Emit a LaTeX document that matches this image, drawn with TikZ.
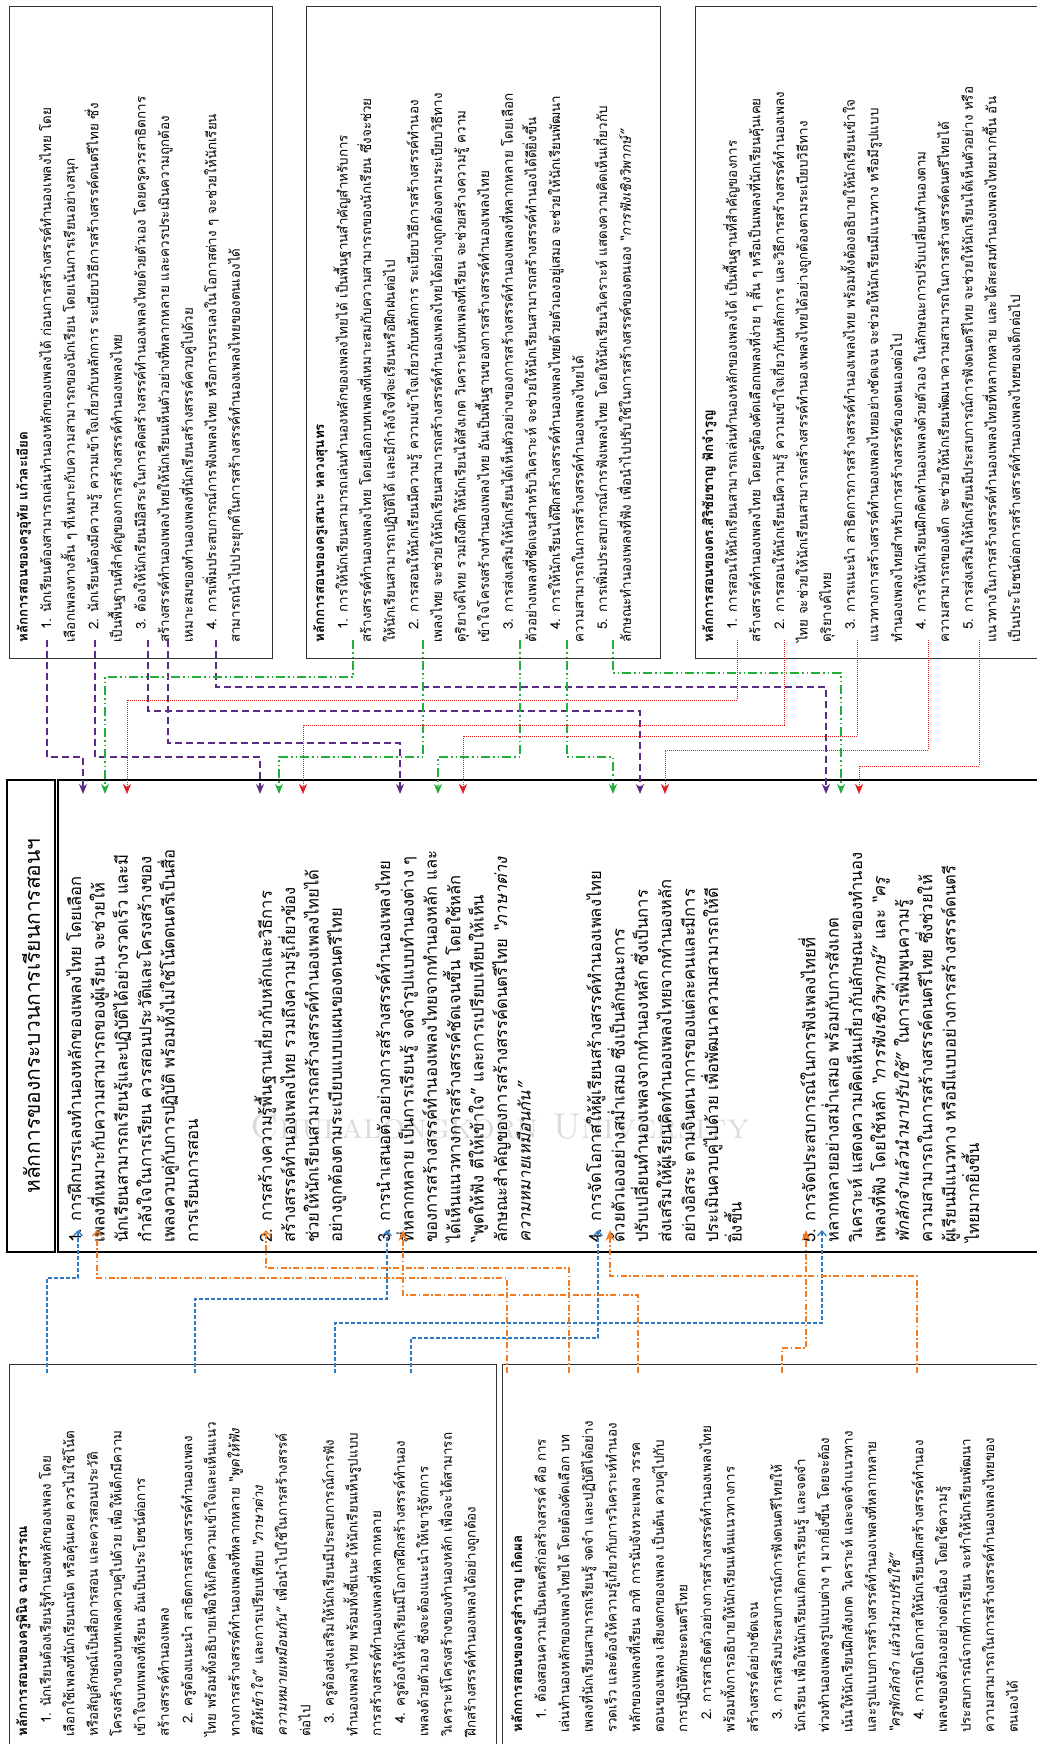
\documentclass[tikz,border=0pt]{standalone}
\usepackage{fontspec}
\newfontfamily\thaifont[Script=Thai]{Loma}
\usetikzlibrary{arrows.meta}

\definecolor{purp}{HTML}{5B2C86}
\definecolor{grn}{HTML}{22B03A}
\definecolor{redd}{HTML}{E41B1B}
\definecolor{blu}{HTML}{2F7BC4}
\definecolor{orng}{HTML}{F47B20}

\newcommand{\ind}{\hspace*{13pt}}

\tikzset{
  frame/.style={draw=black!80, line width=0.8pt},
  bigframe/.style={draw=black, line width=2.4pt},
  sidetext/.style={rotate=90, anchor=north west, align=left, inner sep=0pt,
    font=\thaifont\fontsize{13.4}{23.6}\selectfont},
  maintext/.style={rotate=90, anchor=north west, align=left, inner sep=0pt,
    font=\thaifont\fontsize{16.6}{23.4}\selectfont},
  purpline/.style={draw=purp, line width=1.6pt, dash pattern=on 7pt off 4pt,
    -{Stealth[length=10pt,width=8pt,inset=3pt]}},
  grnline/.style={draw=grn, line width=1.6pt,
    dash pattern=on 9pt off 3pt on 1.5pt off 3pt on 1.5pt off 3pt,
    -{Stealth[length=10pt,width=8pt,inset=3pt]}},
  redline/.style={draw=redd, line width=0.7pt, dash pattern=on 1pt off 1pt,
    -{Stealth[length=10pt,width=8pt,inset=3pt]}},
  blueline/.style={draw=blu, line width=1.3pt, dash pattern=on 4pt off 2pt,
    -{Straight Barb[length=5pt,width=9pt]}},
  orline/.style={draw=orng, line width=1.3pt,
    dash pattern=on 6pt off 2.5pt on 1.5pt off 2.5pt,
    -{Straight Barb[length=5pt,width=9pt]}},
  orbig/.style={orline, -{Stealth[length=11pt,width=9pt,inset=4pt]}},
}

\begin{document}
\begin{tikzpicture}[x=1pt,y=-1pt]
  \useasboundingbox (0,0) rectangle (1036,1744);

  % watermark
  \node[text=black!14, font=\fontsize{36}{36}\selectfont] (wmark) at (500,1126)
    {\textsc{Chulalongkorn University}};

  % side boxes
  \draw[frame] (9,6) rectangle (272,658);
  \draw[frame] (306,6) rectangle (660,658);
  \draw[frame] (695,6) rectangle (1044,658);
  \draw[frame] (9,1364) rectangle (496,1752);
  \draw[frame] (502,1364) rectangle (1044,1752);

  % title and main frame
  \node[bigframe, minimum width=48, minimum height=472, inner sep=0pt] (title) at (31,1016) {};
  \node[rotate=90, font=\thaifont\fontsize{21}{24}\selectfont] (titletext) at (title.center)
    {หลักการของกระบวนการเรียนการสอนฯ};
  \node[bigframe, minimum width=986, minimum height=472, inner sep=0pt] (frame) at (551,1016) {};

  % texts of the side boxes
  \node[sidetext] (tA) at (16,643) {{\bfseries หลักการสอนของครูอุทัย แก้วละเอียด}\\
    \ind 1. นักเรียนต้องสามารถเล่นทำนองหลักของเพลงได้ ก่อนการสร้างสรรค์ทำนองเพลงไทย โดย\\
    เลือกเพลงทางสั้น ๆ ที่เหมาะกับความสามารถของนักเรียน โดยเน้นการเรียนอย่างสนุก\\
    \ind 2. นักเรียนต้องมีความรู้ ความเข้าใจเกี่ยวกับหลักการ ระเบียบวิธีการสร้างสรรค์ดนตรีไทย ซึ่ง\\
    เป็นพื้นฐานที่สำคัญของการสร้างสรรค์ทำนองเพลงไทย\\
    \ind 3. ต้องให้นักเรียนมีอิสระในการคิดสร้างสรรค์ทำนองเพลงไทยด้วยตัวเอง โดยครูควรสาธิตการ\\
    สร้างสรรค์ทำนองเพลงไทยให้นักเรียนเห็นตัวอย่างที่หลากหลาย และควรประเมินความถูกต้อง\\
    เหมาะสมของทำนองเพลงที่นักเรียนสร้างสรรค์ควบคู่ไปด้วย\\
    \ind 4. การเพิ่มประสบการณ์การฟังเพลงไทย หรือการบรรเลงในโอกาสต่าง ๆ จะช่วยให้นักเรียน\\
    สามารถนำไปประยุกต์ในการสร้างสรรค์ทำนองเพลงไทยของตนเองได้};
  \node[sidetext] (tB) at (313,643) {{\bfseries หลักการสอนของครูเสนาะ หลวงสุนทร}\\
    \ind 1. การให้นักเรียนสามารถเล่นทำนองหลักของเพลงไทยได้ เป็นพื้นฐานสำคัญสำหรับการ\\
    สร้างสรรค์ทำนองเพลงไทย โดยเลือกบทเพลงที่เหมาะสมกับความสามารถของนักเรียน ซึ่งจะช่วย\\
    ให้นักเรียนสามารถปฏิบัติได้ และมีกำลังใจที่จะเรียนหรือฝึกฝนต่อไป\\
    \ind 2. การสอนให้นักเรียนมีความรู้ ความเข้าใจเกี่ยวกับหลักการ ระเบียบวิธีการสร้างสรรค์ทำนอง\\
    เพลงไทย จะช่วยให้นักเรียนสามารถสร้างสรรค์ทำนองเพลงไทยได้อย่างถูกต้องตามระเบียบวิธีทาง\\
    ดุริยางค์ไทย รวมถึงฝึกให้นักเรียนได้สังเกต วิเคราะห์บทเพลงที่เรียน จะช่วยสร้างความรู้ ความ\\
    เข้าใจโครงสร้างทำนองเพลงไทย อันเป็นพื้นฐานของการสร้างสรรค์ทำนองเพลงไทย\\
    \ind 3. การส่งเสริมให้นักเรียนได้เห็นตัวอย่างของการสร้างสรรค์ทำนองเพลงที่หลากหลาย โดยเลือก\\
    ตัวอย่างเพลงที่ชัดเจนสำหรับวิเคราะห์ จะช่วยให้นักเรียนสามารถสร้างสรรค์ทำนองได้ดียิ่งขึ้น\\
    \ind 4. การให้นักเรียนได้ฝึกสร้างสรรค์ทำนองเพลงไทยด้วยตัวเองอยู่เสมอ จะช่วยให้นักเรียนพัฒนา\\
    ความสามารถในการสร้างสรรค์ทำนองเพลงไทยได้\\
    \ind 5. การเพิ่มประสบการณ์การฟังเพลงไทย โดยให้นักเรียนวิเคราะห์ แสดงความคิดเห็นเกี่ยวกับ\\
    ลักษณะทำนองเพลงที่ฟัง เพื่อนำไปปรับใช้ในการสร้างสรรค์ของตนเอง \textit{“การฟังเชิงวิพากษ์”}};
  \node[sidetext] (tC) at (702,643) {{\bfseries หลักการสอนของดร.สิริชัยชาญ ฟักจำรูญ}\\
    \ind 1. การสอนให้นักเรียนสามารถเล่นทำนองหลักของเพลงได้ เป็นพื้นฐานที่สำคัญของการ\\
    สร้างสรรค์ทำนองเพลงไทย โดยครูต้องคัดเลือกเพลงที่ง่าย ๆ สั้น ๆ หรือเป็นเพลงที่นักเรียนคุ้นเคย\\
    \ind 2. การสอนให้นักเรียนมีความรู้ ความเข้าใจเกี่ยวกับหลักการ และวิธีการสร้างสรรค์ทำนองเพลง\\
    ไทย จะช่วยให้นักเรียนสามารถสร้างสรรค์ทำนองเพลงไทยได้อย่างถูกต้องตามระเบียบวิธีทาง\\
    ดุริยางค์ไทย\\
    \ind 3. การแนะนำ สาธิตการการสร้างสรรค์ทำนองเพลงไทย พร้อมทั้งต้องอธิบายให้นักเรียนเข้าใจ\\
    แนวทางการสร้างสรรค์ทำนองเพลงไทยอย่างชัดเจน จะช่วยให้นักเรียนมีแนวทาง หรือมีรูปแบบ\\
    ทำนองเพลงไทยสำหรับการสร้างสรรค์ของตนเองต่อไป\\
    \ind 4. การให้นักเรียนฝึกคิดทำนองเพลงด้วยตัวเอง ในลักษณะการปรับเปลี่ยนทำนองตาม\\
    ความสามารถของเด็ก จะช่วยให้นักเรียนพัฒนาความสามารถในการสร้างสรรค์ดนตรีไทยได้\\
    \ind 5. การส่งเสริมให้นักเรียนมีประสบการณ์การฟังดนตรีไทย จะช่วยให้นักเรียนได้เห็นตัวอย่าง หรือ\\
    แนวทางในการสร้างสรรค์ทำนองเพลงไทยที่หลากหลาย และได้สะสมทำนองเพลงไทยมากขึ้น อัน\\
    เป็นประโยชน์ต่อการสร้างสรรค์ทำนองเพลงไทยของเด็กต่อไป};
  \node[sidetext] (tD) at (16,1737) {{\bfseries หลักการสอนของครูพินิจ ฉายสุวรรณ}\\
    \ind 1. นักเรียนต้องเรียนรู้ทำนองหลักของเพลง โดย\\
    เลือกใช้เพลงที่นักเรียนถนัด หรือคุ้นเคย ควรไม่ใช้โน้ต\\
    หรือสัญลักษณ์เป็นสื่อการสอน และควรสอนประวัติ\\
    โครงสร้างของบทเพลงควบคู่ไปด้วย เพื่อให้เด็กมีความ\\
    เข้าใจบทเพลงที่เรียน อันเป็นประโยชน์ต่อการ\\
    สร้างสรรค์ทำนองเพลง\\
    \ind 2. ครูต้องแนะนำ สาธิตการสร้างสรรค์ทำนองเพลง\\
    ไทย พร้อมทั้งอธิบายเพื่อให้เกิดความเข้าใจและเห็นแนว\\
    ทางการสร้างสรรค์ทำนองเพลงที่หลากหลาย \textit{“พูดให้ฟัง}\\
    \textit{ตีให้เข้าใจ”} และการเปรียบเทียบ \textit{“ภาษาต่าง}\\
    \textit{ความหมายเหมือนกัน”} เพื่อนำไปใช้ในการสร้างสรรค์\\
    ต่อไป\\
    \ind 3. ครูต้องส่งเสริมให้นักเรียนมีประสบการณ์การฟัง\\
    ทำนองเพลงไทย พร้อมทั้งชี้แนะให้นักเรียนเห็นรูปแบบ\\
    การสร้างสรรค์ทำนองเพลงที่หลากหลาย\\
    \ind 4. ครูต้องให้นักเรียนมีโอกาสฝึกสร้างสรรค์ทำนอง\\
    เพลงด้วยตัวเอง ซึ่งจะต้องแนะนำให้เขารู้จักการ\\
    วิเคราะห์โครงสร้างของทำนองหลัก เพื่อจะได้สามารถ\\
    ฝึกสร้างสรรค์ทำนองเพลงได้อย่างถูกต้อง};
  \node[sidetext] (tE) at (511,1733) {{\bfseries หลักการสอนของครูสำราญ เกิดผล}\\
    \ind 1. ต้องสอนความเป็นดนตรีก่อสร้างสรรค์ คือ การ\\
    เล่นทำนองหลักของเพลงไทยได้ โดยต้องคัดเลือก บท\\
    เพลงที่นักเรียนสามารถเรียนรู้ จดจำ และปฏิบัติได้อย่าง\\
    รวดเร็ว และต้องให้ความรู้เกี่ยวกับการวิเคราะห์ทำนอง\\
    หลักของเพลงที่เรียน อาทิ การนับจังหวะเพลง วรรค\\
    ตอนของเพลง เสียงตกของเพลง เป็นต้น ควบคู่ไปกับ\\
    การปฏิบัติทักษะดนตรีไทย\\
    \ind 2. การสาธิตตัวอย่างการสร้างสรรค์ทำนองเพลงไทย\\
    พร้อมทั้งการอธิบายให้นักเรียนเห็นแนวทางการ\\
    สร้างสรรค์อย่างชัดเจน\\
    \ind 3. การเสริมประสบการณ์การฟังดนตรีไทยให้\\
    นักเรียน เพื่อให้นักเรียนเกิดการเรียนรู้ และจดจำ\\
    ท่วงทำนองเพลงรูปแบบต่าง ๆ มากยิ่งขึ้น โดยจะต้อง\\
    เน้นให้นักเรียนฝึกสังเกต วิเคราะห์ และจดจำแนวทาง\\
    และรูปแบบการสร้างสรรค์ทำนองเพลงที่หลากหลาย\\
    \textit{“ครูพักลักจำ แล้วนำมาปรับใช้”}\\
    \ind 4. การเปิดโอกาสให้นักเรียนฝึกสร้างสรรค์ทำนอง\\
    เพลงของตัวเองอย่างต่อเนื่อง โดยใช้ความรู้\\
    ประสบการณ์จากที่การเรียน จะทำให้นักเรียนพัฒนา\\
    ความสามารถในการสร้างสรรค์ทำนองเพลงไทยของ\\
    ตนเองได้};

  % main box items
  \node[maintext] (m1) at (66,1243) {1. การฝึกบรรเลงทำนองหลักของเพลงไทย โดยเลือก\\
    เพลงที่เหมาะกับความสามารถของผู้เรียน จะช่วยให้\\
    นักเรียนสามารถเรียนรู้และปฏิบัติได้อย่างรวดเร็ว และมี\\
    กำลังใจในการเรียน ควรสอนประวัติและโครงสร้างของ\\
    เพลงควบคู่กับการปฏิบัติ พร้อมทั้งไม่ใช้โน้ตดนตรีเป็นสื่อ\\
    การเรียนการสอน};
  \node[maintext] (m2) at (254,1243) {2. การสร้างความรู้พื้นฐานเกี่ยวกับหลักและวิธีการ\\
    สร้างสรรค์ทำนองเพลงไทย รวมถึงความรู้เกี่ยวข้อง\\
    ช่วยให้นักเรียนสามารถสร้างสรรค์ทำนองเพลงไทยได้\\
    อย่างถูกต้องตามระเบียบแบบแผนของดนตรีไทย};
  \node[maintext] (m3) at (375,1243) {3. การนำเสนอตัวอย่างการสร้างสรรค์ทำนองเพลงไทย\\
    ที่หลากหลาย เป็นการเรียนรู้ จดจำรูปแบบทำนองต่าง ๆ\\
    ของการสร้างสรรค์ทำนองเพลงไทยจากทำนองหลัก และ\\
    ได้เห็นแนวทางการสร้างสรรค์ชัดเจนขึ้น โดยใช้หลัก\\
    “พูดให้ฟัง ตีให้เข้าใจ” และการเปรียบเทียบให้เห็น\\
    ลักษณะสำคัญของการสร้างสรรค์ดนตรีไทย \textit{“ภาษาต่าง}\\
    \textit{ความหมายเหมือนกัน”}};
  \node[maintext] (m4) at (586,1243) {4. การจัดโอกาสให้ผู้เรียนสร้างสรรค์ทำนองเพลงไทย\\
    ด้วยตัวเองอย่างสม่ำเสมอ ซึ่งเป็นลักษณะการ\\
    ปรับเปลี่ยนทำนองเพลงจากทำนองหลัก ซึ่งเป็นการ\\
    ส่งเสริมให้ผู้เรียนคิดทำนองเพลงไทยจากทำนองหลัก\\
    อย่างอิสระ ตามจินตนาการของแต่ละคนและมีการ\\
    ประเมินควบคู่ไปด้วย เพื่อพัฒนาความสามารถให้ดี\\
    ยิ่งขึ้น};
  \node[maintext] (m5) at (798,1243) {5. การจัดประสบการณ์ในการฟังเพลงไทยที่\\
    หลากหลายอย่างสม่ำเสมอ พร้อมกับการสังเกต\\
    วิเคราะห์ แสดงความคิดเห็นเกี่ยวกับลักษณะของทำนอง\\
    เพลงที่ฟัง โดยใช้หลัก \textit{“การฟังเชิงวิพากษ์”} และ \textit{“ครู}\\
    \textit{พักลักจำแล้วนำมาปรับใช้”} ในการเพิ่มพูนความรู้\\
    ความสามารถในการสร้างสรรค์ดนตรีไทย ซึ่งช่วยให้\\
    ผู้เรียนมีแนวทาง หรือมีแบบอย่างการสร้างสรรค์ดนตรี\\
    ไทยมากยิ่งขึ้น};

  % connector ends: side box items
  \foreach \n/\x in {a1/47,a2/95,a3/148,a4/168,a5/216,
                     b1/353,b2/423,b3/520,b4/567,b5/613,
                     c1/737,c2/784,c3/857,c4/928,c5/979}
    \coordinate (\n) at (\x,640);
  \foreach \n/\x in {d1/47,d2/195,d3/335,d4/411,
                     e1/507,e2/569,e3/638,e4/782,e5/917}
    \coordinate (\n) at (\x,1373);
  % connector ends: main box edges
  \foreach \n/\x in {p1/83,p2/260,p3/400,p4/640,p5/826,
                     g1/105,g2/279,g3/438,g4/613,g5/841,
                     r1/127,r2/303,r3/463,r4/665,r5/859}
    \coordinate (\n) at (\x,794);
  \foreach \n/\x in {q1/78,q2/387,q3/822,q4/598,
                     o1/97,o2/266,o3/403,o4/806,o5/610}
    \coordinate (\n) at (\x,1230);

  % box A to main box
  \draw[purpline] (a1) -- (a1 |- 0,757) -| (p1);
  \draw[purpline] (a2) -- (a2 |- 0,757) -| (p2);
  \draw[purpline] (a3) -- (a3 |- 0,711) -| (p4);
  \draw[purpline] (a4) -- (a4 |- 0,743) -| (p3);
  \draw[purpline] (a5) -- (a5 |- 0,687) -| (p5);
  % box B to main box
  \draw[grnline] (b1) -- (b1 |- 0,677) -| (g1);
  \draw[grnline] (b2) -- (b2 |- 0,757) -| (g2);
  \draw[grnline] (b3) -- (b3 |- 0,757) -| (g3);
  \draw[grnline] (b4) -- (b4 |- 0,757) -| (g4);
  \draw[grnline] (b5) -- (b5 |- 0,673) -| (g5);
  % box C to main box
  \draw[redline] (c1) -- (c1 |- 0,700) -| (r1);
  \draw[redline] (c2) -- (c2 |- 0,725) -| (r2);
  \draw[redline] (c3) -- (c3 |- 0,736) -| (r3);
  \draw[redline] (c4) -- (c4 |- 0,750) -| (r4);
  \draw[redline] (c5) -- (c5 |- 0,766) -| (r5);
  % box D to main box
  \draw[blueline] (d1) -- (d1 |- 0,1278) -| (q1);
  \draw[blueline] (d2) -- (d2 |- 0,1299) -| (q2);
  \draw[blueline] (d3) -- (d3 |- 0,1323) -| (q3);
  \draw[blueline] (d4) -- (d4 |- 0,1338) -| (q4);
  % box E to main box
  \draw[orline] (e1) -- (e1 |- 0,1278) -| (o1);
  \draw[orline] (e2) -- (e2 |- 0,1268) -| (o2);
  \draw[orbig] (e3) -- (e3 |- 0,1295) -| (o3);
  \draw[orbig] (e4) -- (e4 |- 0,1348) -| (o4);
  \draw[orbig] (e5) -- (e5 |- 0,1276) -| (o5);
\end{tikzpicture}
\end{document}
